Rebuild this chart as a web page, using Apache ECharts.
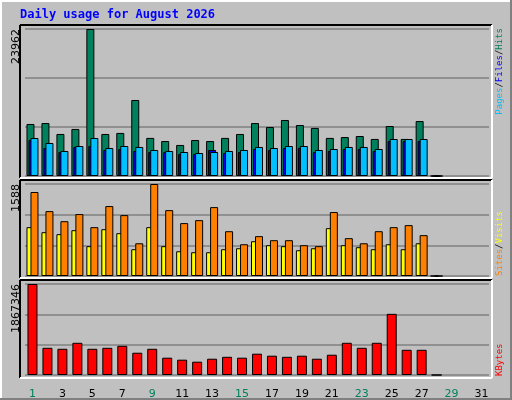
<!DOCTYPE html>
<html><head><meta charset="utf-8">
<script src="https://cdn.jsdelivr.net/npm/echarts@6/dist/echarts.min.js"></script>
<style>html,body{margin:0;padding:0;background:#c0c0c0}#c{width:512px;height:400px}</style>
</head><body><div id="c"></div><script>
const days = Array.from({length:31},(_,i)=>String(i+1));
const weekendDays = [1,2,8,9,15,16,22,23,29,30];
const hits = [8480,8630,6850,7670,23962,6850,7020,12390,6210,5700,5060,5870,5700,6210,6850,8630,7980,9130,8310,7840,6210,6350,6520,6040,8150,6040,8960,0];
const files = [6190,5380,4080,4890,6190,4560,4890,4730,4240,4080,3910,3750,3910,4080,4240,4730,4560,4890,4890,4240,4400,4730,4730,4400,6030,6030,6030,0];
const pages = [5870,4560,3910,4730,4890,4240,4400,4080,3910,3910,3590,3590,4240,3750,3910,4400,4240,4560,4560,3910,4080,4400,4400,4080,5700,5700,5700,0];
const sites = [1450,1120,946,1069,843,1207,1051,565,1588,1137,913,964,1189,773,548,688,618,618,532,515,1104,653,565,773,843,878,705,0];
const visits = [843,756,722,791,515,808,739,462,843,515,427,410,410,462,479,600,532,515,445,479,826,532,497,462,548,462,565,0];
const kbytes = [1867346,558000,538000,661000,538000,558000,599000,457000,538000,355000,314000,273000,334000,373000,355000,437000,396000,373000,396000,334000,416000,661000,558000,661000,1255000,517000,517000,0];
const maxHits = 23962, maxSites = 1588, maxKB = 1867346;

const chart = echarts.init(document.getElementById('c'));
const tops = [29,184,284], heights=[147,92,92];
const grids = tops.map((t,i)=>({left:25,width:464,top:t,height:heights[i]}));
const maxes=[maxHits,maxSites,maxKB];
const xAxes = [0,1,2].map(i=>({type:'category',gridIndex:i,data:days,
  axisLine:{show:false},axisTick:{show:false},
  axisLabel:{show:i===2,margin:14,fontFamily:'DejaVu Sans',fontSize:11,
    color:(v)=>weekendDays.includes(+v)?'#00805c':'#000'}}));
const yAxes = [0,1,2].map(i=>({type:'value',gridIndex:i,min:0,max:maxes[i],interval:maxes[i]/3,
  axisLabel:{show:false},axisLine:{show:false},axisTick:{show:false},
  splitLine:{show:true,lineStyle:{color:'#808080',width:1.5}}}));
const bs = c=>({color:c,borderColor:'#000',borderWidth:1});
const series = [
 {type:'bar',xAxisIndex:0,yAxisIndex:0,data:hits,barWidth:8,barGap:'-75%',itemStyle:bs('#00805c')},
 {type:'bar',xAxisIndex:0,yAxisIndex:0,data:pages,barWidth:8,barGap:'-75%',itemStyle:bs('#0000ff')},
 {type:'bar',xAxisIndex:0,yAxisIndex:0,data:files,barWidth:8,barGap:'-75%',itemStyle:bs('#00c0ff')},
 {type:'bar',xAxisIndex:1,yAxisIndex:1,data:visits,barWidth:8,barGap:'-50%',itemStyle:bs('#ffff00')},
 {type:'bar',xAxisIndex:1,yAxisIndex:1,data:sites,barWidth:8,barGap:'-50%',itemStyle:bs('#ff8000')},
 {type:'bar',xAxisIndex:2,yAxisIndex:2,data:kbytes,barWidth:10,itemStyle:bs('#ff0000')}
];
function frame(x1,y1,x2,y2){return [
 {type:'line',shape:{x1:x1,y1:y1,x2:x2,y2:y1},style:{stroke:'#000',lineWidth:2}},
 {type:'line',shape:{x1:x1,y1:y1,x2:x1,y2:y2},style:{stroke:'#000',lineWidth:2}},
 {type:'line',shape:{x1:x1,y1:y2,x2:x2,y2:y2},style:{stroke:'#fff',lineWidth:2}},
 {type:'line',shape:{x1:x2,y1:y1,x2:x2,y2:y2},style:{stroke:'#fff',lineWidth:2}}];}
const mono='DejaVu Sans Mono';
const rot = (x,y,align,rich,txt)=>({type:'text',x:x,y:y,rotation:Math.PI/2,style:{text:txt,align:align,verticalAlign:'middle',font:'9px '+mono,rich:rich}});
const graphic = [
 {type:'rect',shape:{x:1,y:1,width:510,height:398},style:{fill:'none',stroke:'#fff',lineWidth:2}},
 {type:'line',shape:{x1:0,y1:399,x2:512,y2:399},style:{stroke:'#808080',lineWidth:2}},
 {type:'line',shape:{x1:511,y1:0,x2:511,y2:400},style:{stroke:'#808080',lineWidth:2}},
 ...frame(20,25,492,178),...frame(20,180,492,278),...frame(20,280,492,378),
 {type:'text',x:20,y:15,style:{text:'Daily usage for August 2026',font:'bold 12px '+mono,fill:'#0000ff',verticalAlign:'middle'}},
 {type:'text',x:16,y:29,rotation:Math.PI/2,style:{text:String(maxHits),font:'11px DejaVu Sans',fill:'#000',align:'right',verticalAlign:'middle'}},
 {type:'text',x:16,y:184,rotation:Math.PI/2,style:{text:String(maxSites),font:'11px DejaVu Sans',fill:'#000',align:'right',verticalAlign:'middle'}},
 {type:'text',x:16,y:284,rotation:Math.PI/2,style:{text:String(maxKB),font:'11px DejaVu Sans',fill:'#000',align:'right',verticalAlign:'middle'}},
 rot(500,28,'right',{p:{fill:'#00c0ff',font:'9px '+mono},f:{fill:'#0000ff',font:'9px '+mono},h:{fill:'#00805c',font:'9px '+mono},s:{fill:'#000',font:'9px '+mono}},'{p|Pages}{s|/}{f|Files}{s|/}{h|Hits}'),
 rot(500,276,'left',{a:{fill:'#ff8000',font:'9px '+mono},b:{fill:'#ffff00',font:'9px '+mono},s:{fill:'#000',font:'9px '+mono}},'{a|Sites}{s|/}{b|Visits}'),
 rot(500,376,'left',{k:{fill:'#ff0000',font:'9px '+mono}},'{k|KBytes}')
];
chart.setOption({animation:false,backgroundColor:'#c0c0c0',grid:grids,xAxis:xAxes,yAxis:yAxes,series:series,graphic:graphic});
</script></body></html>
